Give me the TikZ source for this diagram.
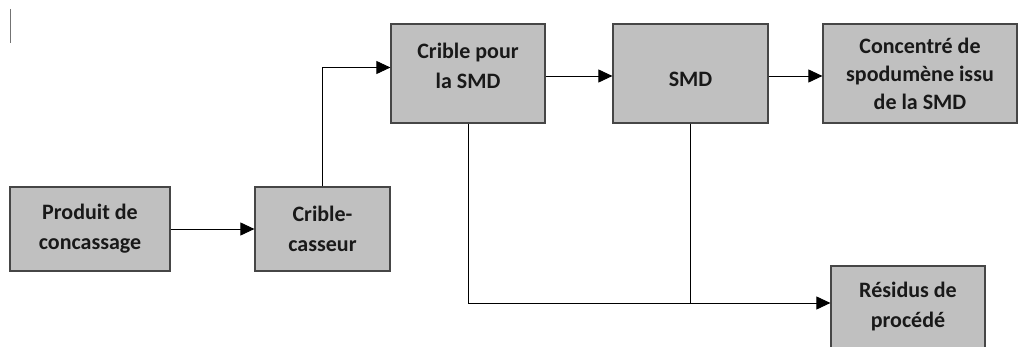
\documentclass[tikz,border=0pt]{standalone}
\usepackage{fontspec}
\setmainfont{Carlito}
\usetikzlibrary{arrows.meta,positioning}

\definecolor{boxfill}{RGB}{192,192,192}
\definecolor{boxline}{RGB}{70,70,70}

\begin{document}
\begin{tikzpicture}[x=1pt,y=-1pt]
    \tikzstyle{block}=[draw=boxline, fill=boxfill, line width=1.2pt, align=center,
        inner sep=0pt, font=\bfseries\fontsize{22}{30}\selectfont, text=black!90]
    \tikzstyle{link}=[draw=black, line width=0.9pt]
    \tikzstyle{flow}=[link, -{Triangle[length=14pt,width=13pt]}]

    \clip (0,0) rectangle (1018,347);

    % cursor mark
    \draw[black!55, line width=1pt] (10,9) -- (10,43);

    \node[block, minimum width=160pt, minimum height=84pt] (prod) at (90,229) {Produit de\\concassage};
    \node[block, minimum width=135pt, minimum height=84pt] (crib) at (322.5,229) {Crible-\\casseur};
    \node[block, minimum width=154pt, minimum height=99pt, text depth=16pt] (cribsmd) at (468,73.5) {Crible pour\\la SMD};
    \node[block, minimum width=155pt, minimum height=99pt, text height=27pt, text depth=0pt] (smd) at (690.5,73.5) {SMD};
    \node[block, minimum width=194pt, minimum height=99pt, font=\bfseries\fontsize{22}{28}\selectfont] (conc) at (920,73.5) {Concentré de\\spodumène issu\\de la SMD};
    \node[block, minimum width=154pt, minimum height=82pt] (res) at (908,307) {Résidus de\\procédé};

    \draw[flow] (prod) -- (crib);
    \draw[flow] (crib.north) |- ([yshift=6pt]cribsmd.west);
    \draw[flow] ([yshift=-2.5pt]cribsmd.east) -- ([yshift=-2.5pt]smd.west);
    \draw[flow] ([yshift=-2.5pt]smd.east) -- ([yshift=-2.5pt]conc.west);

    \coordinate (join) at ([yshift=4pt]res.west -| smd.south);
    \draw[flow] (cribsmd.south) |- ([yshift=4pt]res.west);
    \draw[link] (smd.south) -- (join);
\end{tikzpicture}
\end{document}
